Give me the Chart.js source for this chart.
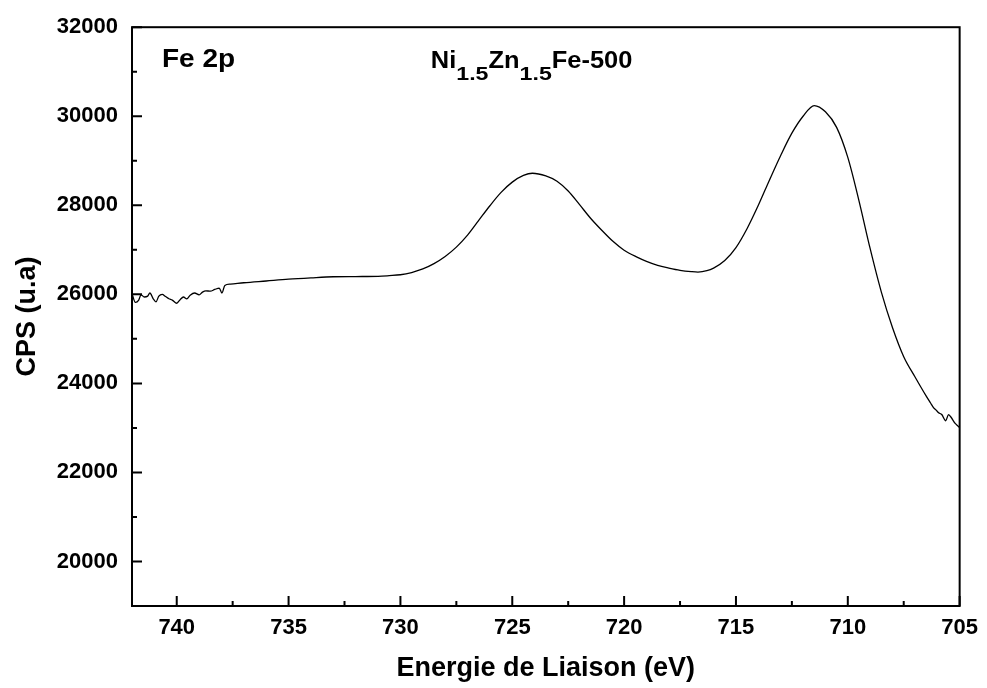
<!DOCTYPE html>
<html>
<head>
<meta charset="utf-8">
<script src="https://cdn.jsdelivr.net/npm/chart.js@4.4.0/dist/chart.umd.min.js"></script>
<style>
  html, body { margin: 0; padding: 0; background: #fff; }
  #wrap { width: 987px; height: 688px; }
</style>
</head>
<body>
<div id="wrap"><canvas id="chart"></canvas></div>
<script>
// binding energy (eV) and counts
const energy = [
    742.0, 741.85, 741.7, 741.6, 741.45, 741.3, 741.2, 741.05, 740.93, 740.8,
    740.65, 740.5, 740.35, 740.2, 740.0, 739.85, 739.7, 739.55, 739.4, 739.2,
    739.0, 738.85, 738.7, 738.5, 738.3, 738.1, 737.98, 737.85, 737.6, 737,
    736, 735, 734, 733, 732, 731, 730.5, 730, 729.5, 729,
    728.5, 728, 727.5, 727, 726.5, 726, 725.5, 725, 724.5, 724.1,
    723.5, 723, 722.5, 722, 721.5, 721, 720.5, 720, 719.4, 719,
    718.5, 718, 717.5, 717, 716.7, 716.3, 716, 715.5, 715, 714.5,
    714, 713.5, 713, 712.5, 712, 711.5, 711, 710.5, 710, 709.5,
    709, 708.5, 708, 707.5, 707, 706.5, 706.3, 706.16,
    706.05, 705.94, 705.8, 705.62, 705.5, 705.4, 705.2, 705.05, 705
]
const cps = [
    26020, 25820, 25870, 25990, 25940, 25960, 26030, 25900, 25830, 25960,
    26000, 25950, 25900, 25870, 25800, 25880, 25940, 25900, 25980, 26030,
    25990, 26050, 26080, 26070, 26110, 26140, 26030, 26200, 26230, 26260,
    26300, 26340, 26370, 26395, 26400, 26405, 26420, 26440, 26490, 26570,
    26690, 26850, 27060, 27330, 27660, 27990, 28290, 28520, 28670, 28720,
    28660, 28540, 28320, 28020, 27710, 27440, 27190, 26990, 26830, 26740,
    26650, 26590, 26540, 26510, 26500, 26530, 26590, 26760, 27050, 27480,
    28000, 28570, 29120, 29620, 30000, 30240, 30100, 29750, 29075, 28100,
    27025, 26050, 25250, 24600, 24150, 23720, 23560, 23450,
    23400, 23340, 23300, 23160, 23300, 23250, 23100, 23030, 23000
]

const xTicks = [740, 735, 730, 725, 720, 715, 710, 705]
const yTicks = [20000, 22000, 24000, 26000, 28000, 30000, 32000]
const xRange = [705, 742]
const yRange = [19000, 32000]

const xTitle = 'Energie de Liaison (eV)'
const yTitle = 'CPS (u.a)'
const peakLabel = 'Fe 2p'
const sampleParts = [['Ni', 0], ['1.5', 1], ['Zn', 0], ['1.5', 1], ['Fe-500', 0]]
// where the two labels sit, in data units
const peakLabelAt = [740.66, 31100]
const sampleLabelAt = [728.64, 31080]

const FONT = '"Liberation Sans", Arial, sans-serif'

// text is a bit wider than tall in the original, so stretch it sideways
function wideText(ctx, text, x, y, font, sx) {
    ctx.save()
    ctx.font = font
    ctx.translate(x, y)
    ctx.scale(sx, 1)
    ctx.fillText(text, 0, 0)
    const w = ctx.measureText(text).width * sx
    ctx.restore()
    return w
}

const frame = {
    id: 'frame',
    afterDatasetsDraw(chart) {
        const ctx = chart.ctx
        const a = chart.chartArea
        const x = chart.scales.x
        const y = chart.scales.y
        ctx.save()
        ctx.strokeStyle = '#000'
        ctx.lineWidth = 2
        ctx.strokeRect(a.left, a.top, a.right - a.left, a.bottom - a.top)

        // inward ticks, major and minor
        ctx.beginPath()
        xTicks.forEach((v, i) => {
            const px = x.getPixelForValue(v)
            ctx.moveTo(px, a.bottom)
            ctx.lineTo(px, a.bottom - 10)
            if (i < xTicks.length - 1) {
                const mx = x.getPixelForValue((v + xTicks[i + 1]) / 2)
                ctx.moveTo(mx, a.bottom)
                ctx.lineTo(mx, a.bottom - 5)
            }
        })
        yTicks.forEach((v, i) => {
            const py = y.getPixelForValue(v)
            ctx.moveTo(a.left, py)
            ctx.lineTo(a.left + 10, py)
            if (i < yTicks.length - 1) {
                const my = y.getPixelForValue((v + yTicks[i + 1]) / 2)
                ctx.moveTo(a.left, my)
                ctx.lineTo(a.left + 5, my)
            }
        })
        ctx.stroke()

        // labels
        ctx.fillStyle = '#000'
        ctx.textBaseline = 'alphabetic'
        ctx.textAlign = 'left'
        wideText(ctx, peakLabel, x.getPixelForValue(peakLabelAt[0]), y.getPixelForValue(peakLabelAt[1]),
            'bold 25px ' + FONT, 1.12)

        let px = x.getPixelForValue(sampleLabelAt[0])
        const base = y.getPixelForValue(sampleLabelAt[1])
        sampleParts.forEach(part => {
            if (part[1]) {
                px += wideText(ctx, part[0], px, base + 12, 'bold 19px ' + FONT, 1.22)
            } else {
                px += wideText(ctx, part[0], px, base, 'bold 24px ' + FONT, 1.06)
            }
        })
        ctx.restore()
    }
}

const points = energy.map((e, i) => ({ x: e, y: cps[i] }))

new Chart(document.getElementById('chart'), {
    type: 'scatter',
    data: {
        datasets: [{
            data: points,
            showLine: true,
            borderColor: '#000',
            borderWidth: 1.3,
            pointRadius: 0,
            cubicInterpolationMode: 'monotone'
        }]
    },
    options: {
        responsive: true,
        maintainAspectRatio: false,
        animation: false,
        layout: { padding: { top: 27, right: 23, left: 0, bottom: 0 } },
        plugins: { legend: { display: false }, tooltip: { enabled: false } },
        scales: {
            x: {
                type: 'linear',
                reverse: true,
                min: xRange[0],
                max: xRange[1],
                afterBuildTicks: s => { s.ticks = xTicks.map(v => ({ value: v })) },
                afterFit: s => { s.height = 82 },
                grid: { display: false, drawTicks: false },
                border: { display: false },
                ticks: {
                    color: '#000',
                    padding: 9,
                    maxRotation: 0,
                    font: { family: FONT, size: 22, weight: 'bold' }
                },
                title: {
                    display: true,
                    text: xTitle,
                    color: '#000',
                    padding: { top: 0, bottom: 3 },
                    font: { family: FONT, size: 27, weight: 'bold' }
                }
            },
            y: {
                type: 'linear',
                min: yRange[0],
                max: yRange[1],
                afterBuildTicks: s => { s.ticks = yTicks.map(v => ({ value: v })) },
                afterFit: s => { s.width = 132 },
                grid: { display: false, drawTicks: false },
                border: { display: false },
                ticks: {
                    color: '#000',
                    padding: 14,
                    font: { family: FONT, size: 22, weight: 'bold' },
                    callback: v => String(v)
                },
                title: {
                    display: true,
                    text: yTitle,
                    color: '#000',
                    padding: { top: 11, bottom: 0 },
                    font: { family: FONT, size: 27, weight: 'bold' }
                }
            }
        }
    },
    plugins: [frame]
})
</script>
</body>
</html>
